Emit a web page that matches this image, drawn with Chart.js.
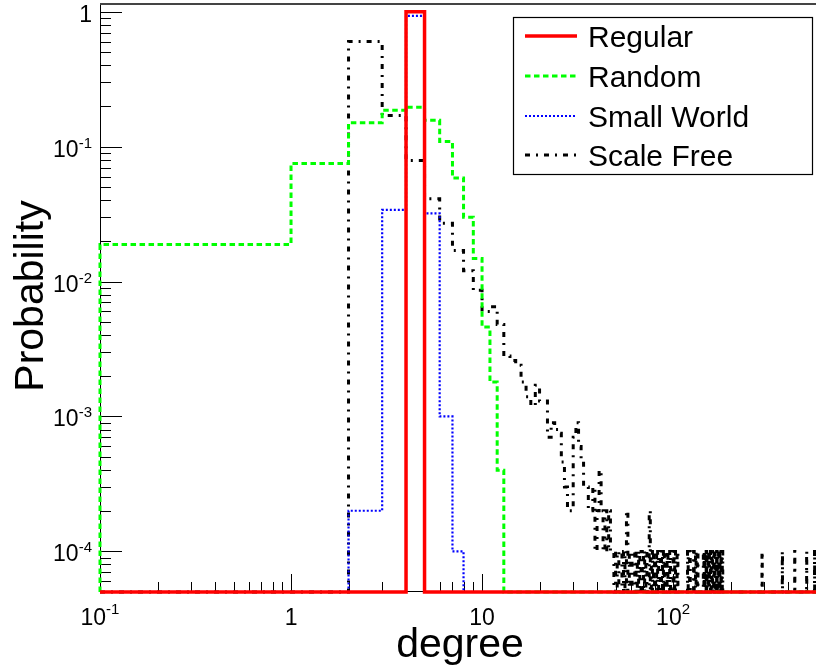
<!DOCTYPE html>
<html>
<head>
<meta charset="utf-8">
<script src="https://cdn.jsdelivr.net/npm/chart.js@4/dist/chart.umd.min.js"></script>
<style>
body { margin: 0; background: #fff; }
canvas { display: block; }
</style>
</head>
<body>
<canvas id="degChart" width="816" height="670"></canvas>
<script>
// degree distributions, one bin per integer degree (bin k covers [k, k+1))
const seriesNames = ['Regular', 'Random', 'Small World', 'Scale Free'];
const regularProb = [0, 0, 0, 0, 1.0];
const randomProb = [0.0188, 0.075, 0.150, 0.186, 0.196, 0.157, 0.109, 0.0586, 0.030, 0.0148, 0.0046, 0.0018, 0.0004];
const smallWorldProb = [0, 0, 0.0002, 0.034, 0.93, 0.032, 0.001, 0.0001];
const scaleFreeProb = [0, 0, 0.60, 0.17, 0.079, 0.041, 0.027, 0.017, 0.012, 0.0086,
  0.006, 0.0065, 0.0048, 0.0028, 0.0026, 0.0024, 0.0018, 0.0014, 0.0012, 0.0017,
  0.0013, 0.0013, 0.0007, 0.0009, 0.0008, 0.00075, 0.00046, 0.0003, 0.0002, 0.0002,
  0.0007, 0.0009, 0.0006, 0.00045, 0.0003, 0.0003, 0.0002, 0.0002, 0.0003, 0.0001,
  0.0002, 0.0004, 0.0002, 0.0001, 0.0002, 0.0001, 0.0002, 0.0001];
// sparse tail of the scale free one: only the non empty bins
const scaleFreeTailDeg = [48, 50, 52, 53, 55, 57, 59, 61, 62, 64, 66, 68, 70, 72, 75, 77, 79, 81, 83, 86,
  88, 90, 93, 96, 100, 102, 105, 119, 122, 128, 131, 134, 144, 146, 149, 151, 154, 157, 160, 163,
  166, 169, 172, 175, 178, 181, 292, 373, 433, 500, 550];
const scaleFreeTailProb = [0.0001, 0.0001, 0.0001, 0.0001, 0.0001, 0.0002, 0.0001, 0.0001, 0.0001, 0.0001,
  0.0001, 0.0001, 0.0001, 0.0001, 0.0002, 0.0001, 0.0001, 0.0001, 0.0001, 0.0001,
  0.0001, 0.0001, 0.0001, 0.0001, 0.0001, 0.0001, 0.0001, 0.0001, 0.0001, 0.0001,
  0.0001, 0.0001, 0.0001, 0.0001, 0.0001, 0.0001, 0.0001, 0.0001, 0.0001, 0.0001,
  0.0001, 0.0001, 0.0001, 0.0001, 0.0001, 0.0001, 0.0001, 0.0001, 0.0001, 0.0001, 0.0001];

const xTickVals = [0.1, 1, 10, 100];
const xTickText = [['10', '-1'], ['1', ''], ['10', ''], ['10', '2']];
const yTickVals = [1, 0.1, 0.01, 0.001, 0.0001];
const yTickText = [['1', ''], ['10', '-1'], ['10', '-2'], ['10', '-3'], ['10', '-4']];

const X_MIN = 0.1, X_MAX = 560;
const Y_MIN = 5e-5, Y_MAX = 1.14;
const FONT = '"Liberation Sans", Helvetica, Arial, sans-serif';

// step outline of a histogram, empty bins sit on the bottom of the frame
function histPoints(prob, tailDeg, tailProb) {
  let pts = [{x: X_MIN, y: Y_MIN}];
  let bins = prob.map((v, k) => [k, v]);
  if (tailDeg) tailDeg.forEach((d, i) => bins.push([d, tailProb[i]]));
  let prevEnd = null;
  bins.forEach(([k, v]) => {
    if (prevEnd !== null && k > prevEnd) pts.push({x: prevEnd, y: Y_MIN});
    pts.push({x: Math.max(k, X_MIN), y: v > 0 ? v : Y_MIN});
    prevEnd = k + 1;
  });
  pts.push({x: prevEnd, y: Y_MIN});
  pts.push({x: X_MAX * 2, y: Y_MIN});
  return pts;
}

function drawPow(ctx, base, exp, xPos, baseY, supY, align) {
  ctx.font = '23px ' + FONT;
  const wb = ctx.measureText(base).width;
  ctx.font = '15px ' + FONT;
  const we = exp ? ctx.measureText(exp).width : 0;
  const left = align === 'right' ? xPos - wb - we : xPos - (wb + we) / 2;
  ctx.textAlign = 'left';
  ctx.textBaseline = 'alphabetic';
  ctx.font = '23px ' + FONT;
  ctx.fillText(base, left, baseY);
  if (exp) {
    ctx.font = '15px ' + FONT;
    ctx.fillText(exp, left + wb, supY);
  }
}

const rootFrame = {
  id: 'rootFrame',
  beforeDatasetsDraw(chart) {
    const {ctx, chartArea: a, scales: {x, y}} = chart;
    ctx.save();
    ctx.strokeStyle = '#000';
    ctx.lineWidth = 1;
    ctx.beginPath();
    for (let e = -5; e <= 0; e++) {
      for (let m = 1; m <= 9; m++) {
        const v = m * Math.pow(10, e);
        if (v < Y_MIN * 0.999 || v > Y_MAX) continue;
        const py = Math.round(y.getPixelForValue(v)) + 0.5;
        ctx.moveTo(a.left, py);
        ctx.lineTo(a.left + (m === 1 ? 22 : 11), py);
      }
    }
    for (let e = -1; e <= 2; e++) {
      for (let m = 1; m <= 9; m++) {
        const v = m * Math.pow(10, e);
        if (v < X_MIN || v > X_MAX) continue;
        const px = Math.round(x.getPixelForValue(v)) + 0.5;
        ctx.moveTo(px, a.bottom);
        ctx.lineTo(px, a.bottom - (m === 1 ? 18 : 10));
      }
    }
    ctx.moveTo(a.left + 0.5, a.top);
    ctx.lineTo(a.left + 0.5, a.bottom);
    ctx.moveTo(a.left, a.bottom - 0.5);
    ctx.lineTo(a.right, a.bottom - 0.5);
    ctx.stroke();
    ctx.strokeStyle = '#444';
    ctx.lineWidth = 2;
    ctx.beginPath();
    ctx.moveTo(a.left, a.top);
    ctx.lineTo(a.right, a.top);
    ctx.stroke();
    ctx.restore();
  },
  afterDraw(chart) {
    const {ctx, chartArea: a, scales: {x, y}} = chart;
    ctx.save();
    ctx.fillStyle = '#000';
    yTickVals.forEach((v, i) => {
      const py = y.getPixelForValue(v);
      drawPow(ctx, yTickText[i][0], yTickText[i][1], a.left - 8, py + 10, py + 1, 'right');
    });
    xTickVals.forEach((v, i) => {
      const px = x.getPixelForValue(v);
      drawPow(ctx, xTickText[i][0], xTickText[i][1], px, 625, 614, 'center');
    });

    // axis titles
    ctx.font = '41px ' + FONT;
    ctx.textAlign = 'center';
    ctx.fillText('degree', (a.left + a.right) / 2 + 2, 657);
    ctx.save();
    ctx.translate(43, (a.top + a.bottom) / 2 - 2);
    ctx.rotate(-Math.PI / 2);
    ctx.fillText('Probability', 0, 0);
    ctx.restore();

    // legend box
    ctx.fillStyle = '#fff';
    ctx.fillRect(513, 17, 299, 157);
    ctx.strokeStyle = '#000';
    ctx.lineWidth = 1.2;
    ctx.strokeRect(513.5, 17.5, 299, 157);
    const rowY = [36, 76, 116, 155];
    chart.data.datasets.forEach((ds, i) => {
      ctx.strokeStyle = ds.borderColor;
      ctx.lineWidth = ds.borderWidth;
      ctx.setLineDash(ds.borderDash || []);
      ctx.beginPath();
      ctx.moveTo(525, rowY[i]);
      ctx.lineTo(577, rowY[i]);
      ctx.stroke();
      ctx.setLineDash([]);
      ctx.fillStyle = '#000';
      ctx.font = '30px ' + FONT;
      ctx.textAlign = 'left';
      ctx.fillText(ds.label, 588, rowY[i] + 11);
    });
    ctx.restore();
  }
};

const lineClip = {left: 2, top: 0, right: 0, bottom: 4};

new Chart(document.getElementById('degChart'), {
  type: 'line',
  data: {
    datasets: [
      {label: seriesNames[0], data: histPoints(regularProb), borderColor: '#ff0000', borderWidth: 3.5, borderDash: []},
      {label: seriesNames[1], data: histPoints(randomProb), borderColor: '#00ff00', borderWidth: 3, borderDash: [5.5, 3.5]},
      {label: seriesNames[2], data: histPoints(smallWorldProb), borderColor: '#0000ff', borderWidth: 2.2, borderDash: [2, 2]},
      {label: seriesNames[3], data: histPoints(scaleFreeProb, scaleFreeTailDeg, scaleFreeTailProb), borderColor: '#000000', borderWidth: 3, borderDash: [5, 6, 2, 6]}
    ].map(d => Object.assign(d, {stepped: true, fill: false, pointRadius: 0, clip: lineClip}))
  },
  options: {
    responsive: false,
    animation: false,
    events: [],
    layout: {padding: {left: 100, top: 4, right: 0, bottom: 78}},
    plugins: {legend: {display: false}, tooltip: {enabled: false}},
    scales: {
      x: {type: 'logarithmic', min: X_MIN, max: X_MAX, bounds: 'data', display: false},
      y: {type: 'logarithmic', min: Y_MIN, max: Y_MAX, bounds: 'data', display: false}
    }
  },
  plugins: [rootFrame]
});
</script>
</body>
</html>
